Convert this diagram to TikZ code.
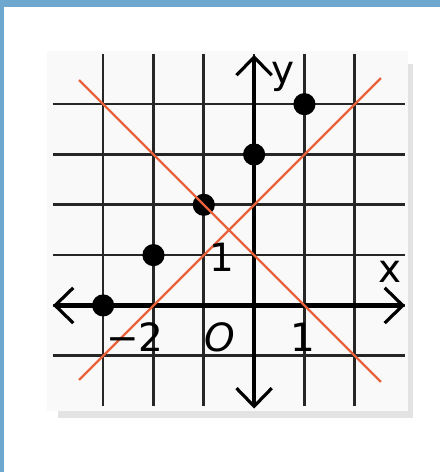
\documentclass[tikz,border=0pt]{standalone}
\usepackage{fontspec}
\setmainfont{DejaVu Sans}
\usetikzlibrary{arrows.meta}
\definecolor{frameblue}{RGB}{111,168,206}
\definecolor{lineorange}{RGB}{233,98,62}
\begin{document}
\begin{tikzpicture}[grid/.style={line width=1.5pt,black!85},axis/.style={line width=2.6pt,{Straight Barb[length=3.6mm,width=7mm,line width=1.8pt]}-{Straight Barb[length=3.6mm,width=7mm,line width=1.8pt]}},graph/.style={line width=1.3pt,lineorange},dot/.style={shape=circle,fill=black,inner sep=0pt,minimum size=4.4mm},lbl/.style={inner sep=0pt,font=\fontsize{22}{26}\selectfont}]
\def\xmin{-4};
\def\xmax{3};
\def\ymin{-2};
\def\ymax{5};

\useasboundingbox (-5.05,-3.31) rectangle (3.70,6.07);
\fill[frameblue] (-5.05,5.93) rectangle (3.70,6.07);
\fill[frameblue] (-5.05,-3.31) rectangle (-4.97,6.07);

\fill[gray!22] (-3.9,-2.24) rectangle (3.15,4.8);
\fill[gray!5] (-4.12,-2.1) rectangle (3.05,5.05);

\foreach \x in {-3,...,2}
  \draw[grid] (\x,\ymin) -- (\x,\ymax);
\foreach \y in {-1,...,4}
  \draw[grid] (\xmin,\y) -- (\xmax,\y);

\draw[axis] (\xmin,0) -- (\xmax,0);
\draw[axis] (0,-2.05) -- (0,4.98);

\node[dot] (P1) at (-3,0) {};
\node[dot] (P2) at (-2,1) {};
\node[dot] (P3) at (-1,2) {};
\node[dot] (P4) at (0,3) {};
\node[dot] (P5) at (1,4) {};

\coordinate (A1) at (-3.48,-1.48);
\coordinate (A2) at (2.52,4.52);
\draw[graph] (A1) -- (A2);
\coordinate (B1) at (-3.48,4.48);
\coordinate (B2) at (2.52,-1.52);
\draw[graph] (B1) -- (B2);

\node[lbl] (ylab) at (0.58,4.54) {y};
\node[lbl] (xlab) at (2.70,0.66) {x};
\node[lbl] (xm2) at (-2.37,-0.63) {−2};
\node[lbl] (orig) at (-0.68,-0.63) {\itshape O};
\node[lbl] (x1) at (0.97,-0.63) {1};
\node[lbl] (y1) at (-0.64,0.96) {1};
\end{tikzpicture}
\end{document}
